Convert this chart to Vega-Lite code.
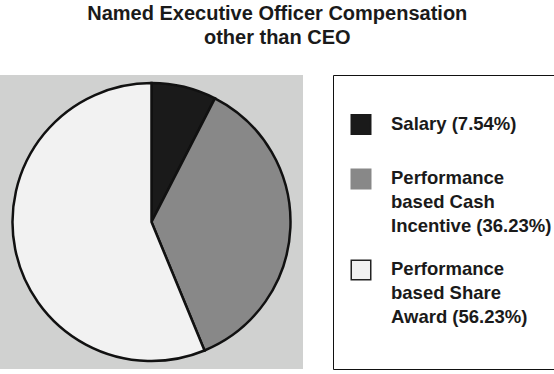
{
  "$schema": "https://vega.github.io/schema/vega-lite/v6.json",
  "padding": {"left": 0, "top": 3, "right": 1, "bottom": 2},
  "background": "white",
  "title": {
    "text": ["Named Executive Officer Compensation", "other than CEO"],
    "anchor": "middle",
    "font": "Liberation Sans",
    "fontSize": 20,
    "fontWeight": "bold",
    "color": "#1a1a1a",
    "lineHeight": 24,
    "offset": 27
  },
  "data": {
    "values": [
      {"idx": 1, "category": "Salary", "value": 7.54, "legend": "Salary (7.54%)"},
      {"idx": 2, "category": "Performance based Cash Incentive", "value": 36.23, "legend": "Performance\nbased Cash\nIncentive (36.23%)"},
      {"idx": 3, "category": "Performance based Share Award", "value": 56.23, "legend": "Performance\nbased Share\nAward (56.23%)"}
    ]
  },
  "hconcat": [
    {
      "width": 303,
      "height": 294,
      "view": {"fill": "#d0d1d0", "stroke": null},
      "mark": {"type": "arc", "outerRadius": 139, "stroke": "#111111", "strokeWidth": 2.5},
      "encoding": {
        "theta": {"field": "value", "type": "quantitative", "stack": true},
        "order": {"field": "idx", "type": "quantitative"},
        "color": {
          "field": "category",
          "type": "nominal",
          "scale": {
            "domain": ["Salary", "Performance based Cash Incentive", "Performance based Share Award"],
            "range": ["#1a1a1a", "#888888", "#f2f2f2"]
          },
          "legend": null
        }
      }
    },
    {
      "width": 221,
      "height": 294,
      "view": {"fill": "white", "stroke": "#111111", "strokeWidth": 1},
      "encoding": {
        "y": {
          "field": "idx",
          "type": "quantitative",
          "scale": {"type": "pow", "exponent": 2, "domain": [1, 3], "range": [49.5, 195], "zero": false, "nice": false},
          "axis": null
        }
      },
      "layer": [
        {
          "mark": {"type": "point", "shape": "square", "filled": true, "opacity": 1, "size": 380, "x": 28, "strokeWidth": 1.5},
          "encoding": {
            "color": {
              "field": "category",
              "type": "nominal",
              "scale": {
                "domain": ["Salary", "Performance based Cash Incentive", "Performance based Share Award"],
                "range": ["#1a1a1a", "#888888", "#f2f2f2"]
              },
              "legend": null
            },
            "stroke": {
              "field": "category",
              "type": "nominal",
              "scale": {
                "domain": ["Salary", "Performance based Cash Incentive", "Performance based Share Award"],
                "range": ["#1a1a1a", "#888888", "#222222"]
              },
              "legend": null
            }
          }
        },
        {
          "mark": {
            "type": "text",
            "x": 58,
            "align": "left",
            "baseline": "top",
            "dy": -10,
            "lineBreak": "\n",
            "lineHeight": 24,
            "font": "Liberation Sans",
            "fontSize": 18.5,
            "fontWeight": "bold",
            "color": "#1a1a1a"
          },
          "encoding": {
            "text": {"field": "legend", "type": "nominal"}
          }
        }
      ]
    }
  ],
  "spacing": 29,
  "resolve": {"scale": {"color": "independent"}}
}
